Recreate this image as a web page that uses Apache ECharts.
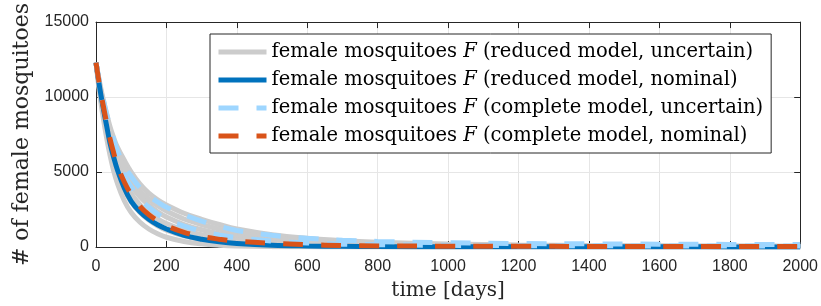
<!DOCTYPE html>
<html>
<head>
<meta charset="utf-8">
<script src="https://cdn.jsdelivr.net/npm/echarts@6/dist/echarts.min.js"></script>
<style>
html,body{margin:0;padding:0;background:#fff;}
#chart{width:821px;height:306px;}
</style>
</head>
<body>
<div id="chart"></div>
<script>
const tDays = [0,10,20,30,40,50,60,80,100,125,150,175,200,250,300,350,400,500,600,700,800,1000,1200,1400,1600,1800,2000];

const grayA = [12300,11000,9900,8900,8000,7300,6700,5800,5000,4200,3600,3150,2800,2250,1850,1500,1200,820,580,420,320,200,140,100,80,65,55];
const grayAB = [12300,10900,9700,8650,7700,6950,6300,5350,4550,3750,3200,2750,2400,1870,1500,1190,940,620,425,300,225,140,95,70,55,45,38];
const grayB = [12300,10800,9500,8400,7400,6600,5900,4900,4100,3350,2800,2350,2000,1500,1150,880,680,420,270,180,130,80,55,40,30,25,20];
const grayBC = [12300,10650,9250,8050,7000,6150,5420,4350,3550,2820,2300,1880,1560,1120,820,610,460,270,165,110,80,50,35,25,20,16,13];
const grayC = [12300,10500,9000,7700,6600,5700,4950,3800,3000,2300,1800,1420,1130,740,500,340,240,120,65,40,28,18,12,9,7,6,5];
const grayD = [12300,10300,8700,7300,6100,5100,4300,3100,2300,1650,1200,880,650,370,210,120,70,25,10,5,3,2,1,1,1,1,1];

const blueNominal = [12300,10700,9350,8100,6900,6000,5200,3950,3050,2350,1850,1480,1200,780,520,350,240,120,70,45,30,20,15,12,10,8,6];

const lightBlueHigh = [12300,11000,9900,8900,8000,7200,6500,5400,4700,3950,3400,3000,2650,2150,1720,1380,1100,780,580,450,370,290,235,210,190,175,160];
const lightBlueMid = [12300,10900,9600,8500,7500,6700,5950,4800,4000,3200,2650,2200,1850,1400,1050,800,620,400,270,190,150,110,90,80,70,65,60];

const orangeNominal = [12300,10800,9500,8300,7200,6300,5500,4350,3500,2700,2150,1750,1420,980,700,520,390,250,160,95,75,55,45,40,35,30,28];

const xTicks = [0,200,400,600,800,1000,1200,1400,1600,1800,2000];
const yTicks = [0,5000,10000,15000];

const names = [
  'female mosquitoes F (reduced model, uncertain)',
  'female mosquitoes F (reduced model, nominal)',
  'female mosquitoes F (complete model, uncertain)',
  'female mosquitoes F (complete model, nominal)'
];

function pairs(arr){ return tDays.map((t,i)=>[t,arr[i]]); }

const serif = 'DejaVu Serif';
const sans = 'Liberation Sans';
const LW = 5;

function mk(name, arr, color, dashed){
  return {
    name: name, type: 'line', data: pairs(arr), symbol: 'none', showSymbol: false,
    smooth: 0.4, animation: false,
    lineStyle: {color: color, width: LW, type: dashed ? [20,18] : 'solid', cap: 'butt'},
    itemStyle: {color: color},
    emphasis: {disabled: true}
  };
}

const series = [
  mk(names[0], grayA, '#cccccc', false),
  mk(names[0], grayAB, '#cccccc', false),
  mk(names[0], grayB, '#cccccc', false),
  mk(names[0], grayBC, '#cccccc', false),
  mk(names[0], grayC, '#cccccc', false),
  mk(names[0], grayD, '#cccccc', false),
  mk(names[1], blueNominal, '#0072bd', false),
  mk(names[2], lightBlueHigh, '#9ed6ff', true),
  mk(names[2], lightBlueMid, '#9ed6ff', true),
  mk(names[3], orangeNominal, '#d95319', true)
];

const chart = echarts.init(document.getElementById('chart'), null, {renderer:'canvas'});
chart.setOption({
  animation: false,
  backgroundColor: '#ffffff',
  grid: {left: 96, right: 18, top: 14, bottom: 59, containLabel: false},
  legend: {
    data: names,
    orient: 'vertical',
    left: 210, top: 34,
    backgroundColor: '#ffffff',
    borderColor: '#262626', borderWidth: 1, borderRadius: 0,
    padding: [8, 8, 7, 6],
    itemGap: 8,
    itemWidth: 48, itemHeight: 14,
    selectedMode: false,
    itemStyle: {opacity: 0},
    lineStyle: {width: 5},
    formatter: function(n){ return n.replace(' F ', ' {i|F} '); },
    textStyle: {
      fontFamily: serif, fontSize: 19.5, color: '#000',
      rich: { i: {fontFamily: serif, fontSize: 19.5, fontStyle: 'italic', color: '#000'} }
    }
  },
  xAxis: [{
    type: 'value', min: 0, max: 2000, interval: 200,
    name: 'time [days]', nameLocation: 'middle', nameGap: 34,
    nameTextStyle: {fontFamily: serif, fontSize: 20, color: '#262626'},
    axisLine: {show: true, onZero: false, lineStyle: {color: '#262626', width: 1}},
    axisTick: {show: true, inside: true, length: 6, lineStyle: {color: '#262626'}},
    axisLabel: {fontFamily: sans, fontSize: 16, color: '#262626', margin: 12, formatter: v => String(v)},
    splitLine: {show: true, lineStyle: {color: '#e6e6e6', width: 1}}
  }, {
    type: 'value', min: 0, max: 2000, interval: 200, position: 'top',
    axisLine: {show: true, onZero: false, lineStyle: {color: '#262626', width: 1}},
    axisTick: {show: true, inside: true, length: 6, lineStyle: {color: '#262626'}},
    axisLabel: {show: false}, splitLine: {show: false}
  }],
  yAxis: [{
    type: 'value', min: 0, max: 15000, interval: 5000,
    name: '# of female mosquitoes', nameLocation: 'middle', nameGap: 58, nameRotate: 90,
    nameTextStyle: {fontFamily: serif, fontSize: 22, color: '#262626'},
    axisLine: {show: true, onZero: false, lineStyle: {color: '#262626', width: 1}},
    axisTick: {show: true, inside: true, length: 6, lineStyle: {color: '#262626'}},
    axisLabel: {fontFamily: sans, fontSize: 16, color: '#262626', margin: 7, formatter: v => String(v)},
    splitLine: {show: true, lineStyle: {color: '#e6e6e6', width: 1}}
  }, {
    type: 'value', min: 0, max: 15000, interval: 5000, position: 'right',
    axisLine: {show: true, onZero: false, lineStyle: {color: '#262626', width: 1}},
    axisTick: {show: true, inside: true, length: 6, lineStyle: {color: '#262626'}},
    axisLabel: {show: false}, splitLine: {show: false}
  }],
  series: series
});
</script>
</body>
</html>
